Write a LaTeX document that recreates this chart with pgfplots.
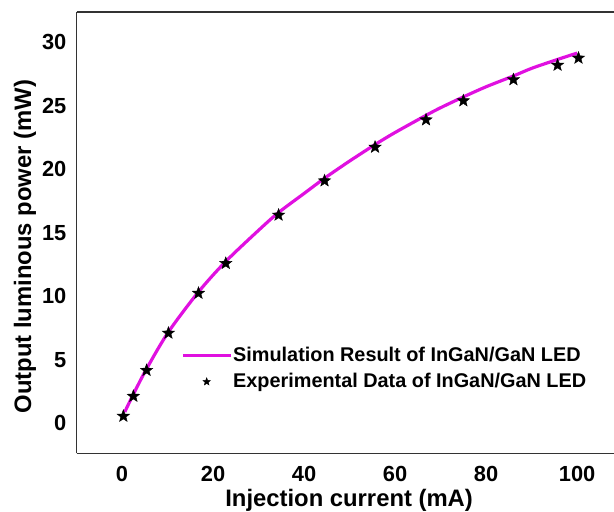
\documentclass[border=0pt]{standalone}
\usepackage{fontspec}
\setmainfont{Liberation Sans}
\usepackage{pgfplots}
\pgfplotsset{compat=1.18}
\definecolor{simmag}{HTML}{E010E0}

% filled five-point star
\pgfdeclareplotmark{fstar}{%
  \pgfpathmoveto{\pgfpointpolar{90}{\pgfplotmarksize}}%
  \pgfpathlineto{\pgfpointpolar{126}{0.42\pgfplotmarksize}}%
  \pgfpathlineto{\pgfpointpolar{162}{\pgfplotmarksize}}%
  \pgfpathlineto{\pgfpointpolar{198}{0.42\pgfplotmarksize}}%
  \pgfpathlineto{\pgfpointpolar{234}{\pgfplotmarksize}}%
  \pgfpathlineto{\pgfpointpolar{270}{0.42\pgfplotmarksize}}%
  \pgfpathlineto{\pgfpointpolar{306}{\pgfplotmarksize}}%
  \pgfpathlineto{\pgfpointpolar{342}{0.42\pgfplotmarksize}}%
  \pgfpathlineto{\pgfpointpolar{18}{\pgfplotmarksize}}%
  \pgfpathlineto{\pgfpointpolar{54}{0.42\pgfplotmarksize}}%
  \pgfpathclose
  \pgfusepathqfillstroke
}

\pgfplotsset{
    simlegend/.style={legend image code/.code={\draw[##1] (0bp,0bp) -- (48bp,0bp);}},
    explegend/.style={legend image code/.code={\draw[##1, mark size=4bp] plot coordinates {(24bp,0bp)};}},
}

\begin{document}
\begin{tikzpicture}
\begin{axis}[
    scale only axis,
    width=539.5bp, height=443.1bp,
    xmin=-10, xmax=108.1,
    ymin=-2.35, ymax=32.4,
    axis y line*=left, axis x line*=bottom,
    axis line style={-, line width=1.3bp, black!80},
    xtick={0,20,...,100}, ytick={0,5,...,30},
    major tick length=0pt,
    tick label style={font=\fontsize{22}{26}\selectfont\bfseries, inner sep=0pt},
    /pgf/number format/assume math mode=true,
    xticklabel style={yshift=-13bp},
    yticklabel style={xshift=-10bp},
    xlabel={Injection current (mA)},
    ylabel={Output luminous power (mW)},
    label style={font=\fontsize{24}{28}\selectfont\bfseries},
    xlabel style={at={(axis cs:49.9,-6.04)}, anchor=center},
    ylabel style={at={(axis cs:-21.3,13.92)}, anchor=center},
    legend cell align=left,
    legend style={draw=none, fill=none, at={(axis cs:12.3,4.3)}, anchor=west,
        font=\fontsize{20}{24}\selectfont\bfseries,
        nodes={text height=15bp, text depth=4bp, inner sep=1bp},
        row sep=5bp},
]

% simulation
\addplot[simmag, line width=3.2bp, smooth, simlegend]
    coordinates {
    (0.6,0.9) (2.5,2.3) (5.4,4.3) (10.2,7.2) (16.8,10.35) (22.8,12.75)
    (30,15.2) (34.4,16.6) (40,18.1) (44.5,19.3) (50,20.65) (55.6,21.95)
    (60,22.9) (66.8,24.25) (70,24.85) (75,25.7) (80,26.5) (86,27.35)
    (90,27.95) (95.7,28.65) (100,29.15)
    };
\addlegendentry{Simulation Result of InGaN/GaN LED}

% experiment
\addplot[only marks, mark=fstar, mark size=6.5bp, black, explegend]
    coordinates {
    (0.3,0.57) (2.5,2.14) (5.4,4.18) (10.2,7.11) (16.8,10.25) (22.8,12.6)
    (34.4,16.4) (44.5,19.1) (55.6,21.75) (66.8,23.9) (75.0,25.4)
    (86.0,27.06) (95.7,28.2) (100.3,28.76)
    };
\addlegendentry{Experimental Data of InGaN/GaN LED}

\draw[line width=1.6bp, black!80] (rel axis cs:0,1) -- (rel axis cs:1,1);
\coordinate (bbA) at (axis cs:-26.81,-6.9);
\coordinate (bbB) at (axis cs:108.1,33.33);
\end{axis}
\pgfresetboundingbox
\path (bbA) rectangle (bbB);
\end{tikzpicture}
\end{document}
